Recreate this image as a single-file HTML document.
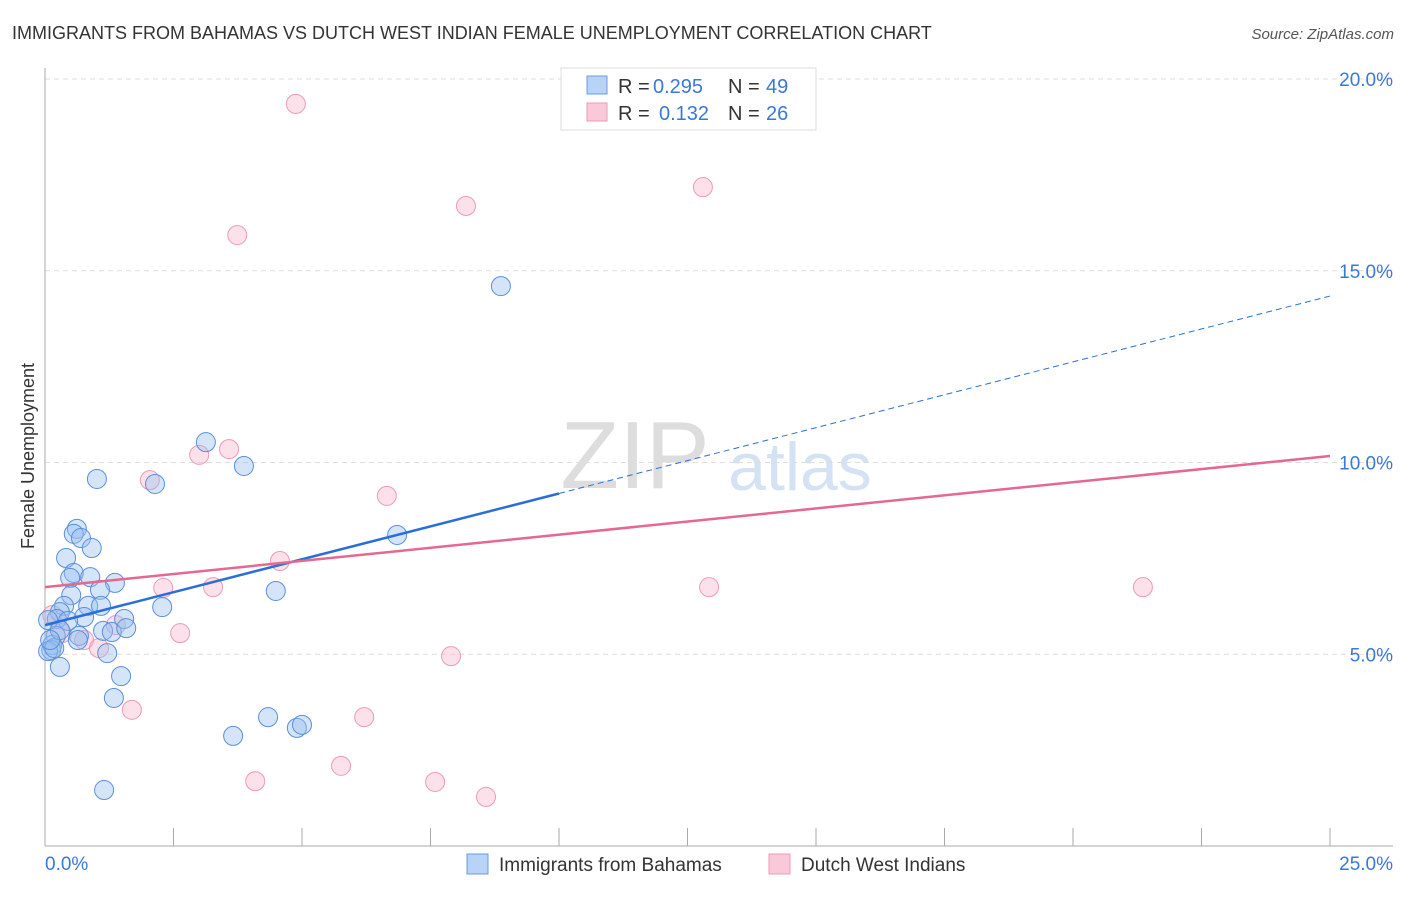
<!DOCTYPE html>
<html><head><meta charset="utf-8"><style>
body{margin:0;background:#fff;font-family:"Liberation Sans",sans-serif;}
svg text{font-family:"Liberation Sans",sans-serif;}
</style></head><body>
<svg id="c" width="1406" height="892" xmlns="http://www.w3.org/2000/svg">
<text x="12" y="39" font-size="18" fill="#333">IMMIGRANTS FROM BAHAMAS VS DUTCH WEST INDIAN FEMALE UNEMPLOYMENT CORRELATION CHART</text>
<text x="1394" y="39" font-size="15" fill="#555" font-style="italic" text-anchor="end">Source: ZipAtlas.com</text>
<text x="635" y="488" font-size="96" fill="#ddd" font-family="Liberation Serif" text-anchor="middle">ZIP</text>
<text x="800" y="490" font-size="68" fill="#d4e2f4" text-anchor="middle">atlas</text>
<text x="34" y="456" font-size="18" fill="#333" text-anchor="middle" transform="rotate(-90 34 456)">Female Unemployment</text>
<g id="grid"></g><g id="axes"></g><g id="pts"></g><g id="lines"></g>
<g>
<rect x="561" y="68" width="255" height="62" fill="#fff" stroke="#ddd"/>
<rect x="587" y="76" width="20" height="18" fill="#b8d3f5" stroke="#6a9be0"/>
<rect x="587" y="103" width="20" height="18" fill="#f9c9d9" stroke="#ec9ab6"/>
<text y="93" font-size="20" fill="#333"><tspan x="618">R = </tspan><tspan x="653" fill="#3a78d8">0.295</tspan><tspan x="728">N = </tspan><tspan x="766" fill="#3a78d8">49</tspan></text>
<text y="120" font-size="20" fill="#333"><tspan x="618">R = </tspan><tspan x="659" fill="#3a78d8">0.132</tspan><tspan x="728">N = </tspan><tspan x="766" fill="#3a78d8">26</tspan></text>
</g>
<g>
<rect x="467" y="854" width="21" height="20" fill="#b8d3f5" stroke="#6a9be0"/>
<text x="499" y="871" font-size="19" fill="#333">Immigrants from Bahamas</text>
<rect x="769" y="854" width="21" height="20" fill="#f9c9d9" stroke="#ec9ab6"/>
<text x="801" y="871" font-size="19" fill="#333">Dutch West Indians</text>
</g>
</svg>
<script>
const blueX=[0.62,0.56,0.70,0.91,0.41,0.56,0.49,0.88,1.36,0.51,1.07,0.84,0.76,1.09,0.37,0.29,0.23,0.45,0.21,0.66,0.64,1.13,1.30,1.54,1.58,0.14,0.12,0.06,0.18,1.21,0.29,1.48,1.34,1.15,2.28,2.14,1.01,3.13,3.87,4.49,6.85,8.87,4.34,3.66,4.90,5.00,0.06,0.29,0.10];
const blueY=[8.27,8.14,8.03,7.77,7.51,7.12,6.99,7.01,6.86,6.54,6.68,6.26,5.97,6.26,6.26,6.10,5.92,5.87,5.48,5.48,5.37,5.61,5.58,5.92,5.68,5.24,5.11,5.08,5.16,5.03,4.67,4.43,3.86,1.46,6.23,9.44,9.57,10.53,9.91,6.65,8.11,14.60,3.36,2.87,3.08,3.16,5.89,5.63,5.37];
const pinkX=[4.88,8.19,12.80,3.74,3.00,3.58,2.04,6.65,4.57,2.30,3.27,12.92,21.36,2.63,1.38,0.14,0.33,0.76,1.05,7.90,1.69,6.21,4.09,5.76,7.59,8.58];
const pinkY=[19.35,16.69,17.18,15.93,10.20,10.35,9.54,9.13,7.43,6.73,6.75,6.75,6.75,5.55,5.76,6.02,5.55,5.37,5.16,4.95,3.55,3.36,1.69,2.09,1.67,1.28];
const yTicks=[5,10,15,20];
const yTickLabels=["5.0%","10.0%","15.0%","20.0%"];
const xTicks=[0,2.5,5,7.5,10,12.5,15,17.5,20,22.5,25];
const blueTrend=[5.76,14.34];
const pinkTrend=[6.75,10.17];
const blueSolidEnd=10;
const NS="http://www.w3.org/2000/svg";
const sx=v=>45+v*51.4, sy=v=>846-v*38.35;
function mk(p,t,a){const e=document.createElementNS(NS,t);for(const k in a)e.setAttribute(k,a[k]);p.appendChild(e);return e;}
const grid=document.getElementById('grid'),axes=document.getElementById('axes'),pts=document.getElementById('pts'),lines=document.getElementById('lines');
yTicks.forEach((v,i)=>{
 const l=mk(grid,'line',{x1:45,x2:1393,y1:sy(v),y2:sy(v),stroke:'#ddd','stroke-dasharray':'5,4'});
 
 
 const t=mk(axes,'text',{x:1393,y:sy(v)+7,'font-size':19,fill:'#3a78d8','text-anchor':'end'});
 t.textContent=yTickLabels[i];
 
 
});
const a1=mk(axes,'line',{x1:45,x2:45,y1:68,y2:846,stroke:'#aaa'});


const a2=mk(axes,'line',{x1:45,x2:1393,y1:846,y2:846,stroke:'#aaa'});


xTicks.forEach(v=>{
 const t=mk(axes,'line',{x1:sx(v),x2:sx(v),y1:828,y2:846,stroke:'#aaa'});
 
 
});
const xl0=mk(axes,'text',{x:45,y:870,'font-size':19,fill:'#3a78d8'});xl0.textContent='0.0%';


const xl1=mk(axes,'text',{x:1393,y:870,'font-size':19,fill:'#3a78d8','text-anchor':'end'});xl1.textContent='25.0%';


pinkX.forEach((x,i)=>{
 const c=mk(pts,'circle',{cx:sx(x),cy:sy(pinkY[i]),r:9.5,fill:'rgba(246,170,196,0.35)',stroke:'#ec9ab6','stroke-width':1});
 
 
});
blueX.forEach((x,i)=>{
 const c=mk(pts,'circle',{cx:sx(x),cy:sy(blueY[i]),r:9.5,fill:'rgba(150,190,240,0.4)',stroke:'#5a8fdc','stroke-width':1});
 
 
});
const by=x=>blueTrend[0]+(blueTrend[1]-blueTrend[0])*x/25;
const b1=mk(lines,'line',{x1:sx(0),y1:sy(by(0)),x2:sx(blueSolidEnd),y2:sy(by(blueSolidEnd)),stroke:'#2a6fd6','stroke-width':2.5});


const b2=mk(lines,'line',{x1:sx(blueSolidEnd),y1:sy(by(blueSolidEnd)),x2:sx(25),y2:sy(by(25)),stroke:'#2a6fd6','stroke-width':1,'stroke-dasharray':'6,4'});


const p1=mk(lines,'line',{x1:sx(0),y1:sy(pinkTrend[0]),x2:sx(25),y2:sy(pinkTrend[1]),stroke:'#e4688f','stroke-width':2.5});


</script>
</body></html>
